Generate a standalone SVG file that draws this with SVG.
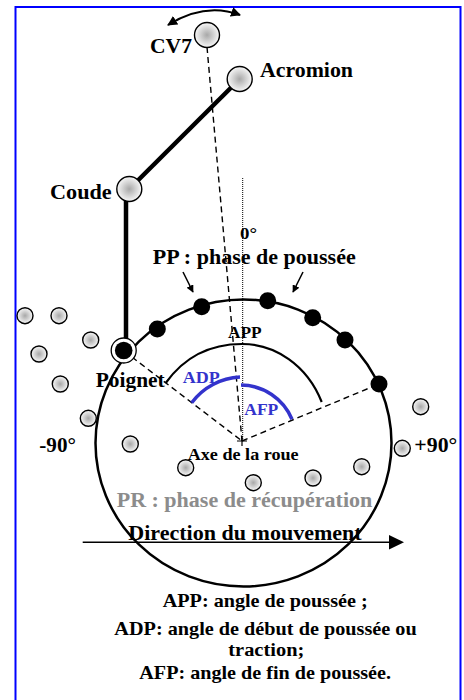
<svg xmlns="http://www.w3.org/2000/svg" width="464" height="700" viewBox="0 0 464 700">
<defs>
<radialGradient id="g" cx="50%" cy="50%" r="50%">
<stop offset="0" stop-color="#a8a8a8"/>
<stop offset="1" stop-color="#f8f8f8"/>
</radialGradient>
<marker id="ah" viewBox="0 0 10 10" refX="9" refY="5" markerWidth="5" markerHeight="5" orient="auto-start-reverse">
<path d="M0,0 L10,5 L0,10 z" fill="#000"/>
</marker>
<style>
text{font-family:"Liberation Serif","Times New Roman",serif;font-weight:bold;fill:#000}
.m{fill:url(#g);stroke:#000;stroke-width:1.4}
.j{fill:url(#g);stroke:#000;stroke-width:1.4}
.d{fill:#000}
.dash{fill:none;stroke:#000;stroke-width:1.4;stroke-dasharray:6,4}
.blue{fill:#3333cc}
.barc{fill:none;stroke:#3333cc;stroke-width:3.5}
</style>
</defs>
<rect x="15.5" y="7" width="445" height="720" fill="#fff" stroke="#0000ff" stroke-width="2"/>

<g id="connectors">
<line x1="239.7" y1="79" x2="129.3" y2="189" stroke="#000" stroke-width="4.5"/>
<line x1="126" y1="195" x2="126" y2="350" stroke="#000" stroke-width="4.5"/>
<line x1="207" y1="47" x2="242" y2="441" class="dash"/>
<line x1="242.7" y1="178" x2="242.7" y2="441" stroke="#000" stroke-width="1" stroke-dasharray="1,1"/>
<line x1="124" y1="351" x2="242" y2="441" class="dash"/>
<line x1="242" y1="441" x2="379" y2="384" class="dash"/>
<path d="M168,25 Q205,2 240,15" fill="none" stroke="#000" stroke-width="2" marker-start="url(#ah)" marker-end="url(#ah)"/>
<line x1="183" y1="272" x2="193" y2="292" stroke="#000" stroke-width="1.5" marker-end="url(#ah)"/>
<line x1="303" y1="272" x2="293" y2="292" stroke="#000" stroke-width="1.5" marker-end="url(#ah)"/>
<line x1="82.7" y1="542.3" x2="392" y2="542.3" stroke="#000" stroke-width="1.5"/>
<polygon points="389,535 404,542.3 389,549.6" fill="#000"/>
</g>

<g id="wheel">
<ellipse cx="243.5" cy="443" rx="148" ry="143.5" fill="none" stroke="#000" stroke-width="2.5"/>
<path d="M165.7,383 C185,356 212,344 242,344 C275,344 307,365 321.7,402" fill="none" stroke="#000" stroke-width="2.2"/>
<path d="M191.7,402.7 A64 64 0 0 1 240,377" class="barc"/>
<path d="M241,385 A56 56 0 0 1 292,419.3" class="barc"/>
<path d="M237,441 H247 M242,436 V446" stroke="#000" stroke-width="1.2"/>
</g>

<g id="pushDots">
<circle cx="157.3" cy="329" r="8.5" class="d"/>
<circle cx="201.7" cy="306.7" r="8.5" class="d"/>
<circle cx="267.7" cy="300.7" r="8.5" class="d"/>
<circle cx="312.7" cy="317.7" r="8.5" class="d"/>
<circle cx="345" cy="340" r="8.5" class="d"/>
<circle cx="379" cy="384" r="8.5" class="d"/>
</g>

<g id="recoveryDots">
<circle cx="25" cy="315.7" r="8" class="m"/>
<circle cx="59" cy="315.7" r="8" class="m"/>
<circle cx="90.7" cy="340" r="8" class="m"/>
<circle cx="39" cy="354" r="8" class="m"/>
<circle cx="60.3" cy="384" r="8" class="m"/>
<circle cx="88.3" cy="418.3" r="8" class="m"/>
<circle cx="130.3" cy="444" r="8" class="m"/>
<circle cx="185.7" cy="467.7" r="8" class="m"/>
<circle cx="253.3" cy="482.7" r="8" class="m"/>
<circle cx="313" cy="478" r="8" class="m"/>
<circle cx="361.7" cy="466.7" r="8" class="m"/>
<circle cx="402.3" cy="448.3" r="8" class="m"/>
<circle cx="420.7" cy="406.7" r="8" class="m"/>
</g>

<g id="cv7">
<circle cx="207" cy="35" r="12.5" class="j"/>
<text x="150" y="53" font-size="20" textLength="42" lengthAdjust="spacingAndGlyphs">CV7</text>
</g>
<g id="acromion">
<circle cx="239.7" cy="79" r="12.5" class="j"/>
<text x="260" y="76.7" font-size="20.5" textLength="93" lengthAdjust="spacingAndGlyphs">Acromion</text>
</g>
<g id="coude">
<circle cx="129.3" cy="189" r="12.5" class="j"/>
<text x="50" y="199" font-size="20.5" textLength="61.7" lengthAdjust="spacingAndGlyphs">Coude</text>
</g>
<g id="poignet">
<circle cx="123.7" cy="350.5" r="12.5" fill="#fff" stroke="#000" stroke-width="1.3"/>
<circle cx="123.7" cy="350.5" r="8.8" fill="#000"/>
<text x="95.7" y="386.7" font-size="20" textLength="69" lengthAdjust="spacingAndGlyphs">Poignet</text>
</g>

<g id="labels">
<text x="240" y="239" font-size="16" textLength="17" lengthAdjust="spacingAndGlyphs">0°</text>
<text x="152.7" y="264" font-size="20" textLength="203" lengthAdjust="spacingAndGlyphs">PP : phase de poussée</text>
<text x="228" y="338.3" font-size="17" textLength="33.7" lengthAdjust="spacingAndGlyphs">APP</text>
<text x="182.7" y="382.7" font-size="17" textLength="37" lengthAdjust="spacingAndGlyphs" class="blue">ADP</text>
<text x="244.3" y="415" font-size="17" textLength="34" lengthAdjust="spacingAndGlyphs" class="blue">AFP</text>
<text x="39.3" y="451.7" font-size="20" textLength="36.7" lengthAdjust="spacingAndGlyphs">-90°</text>
<text x="414.3" y="451.7" font-size="20" textLength="43" lengthAdjust="spacingAndGlyphs">+90°</text>
<text x="187.7" y="460" font-size="17" textLength="111" lengthAdjust="spacingAndGlyphs">Axe de la roue</text>
<text x="116.7" y="506.7" font-size="20.5" textLength="255.6" lengthAdjust="spacingAndGlyphs" style="fill:#8c8c8c">PR : phase de récupération</text>
<text x="128.3" y="540" font-size="20.5" textLength="233.4" lengthAdjust="spacingAndGlyphs">Direction du mouvement</text>
</g>

<g id="legend">
<text x="162.7" y="607.3" font-size="19" textLength="205" lengthAdjust="spacingAndGlyphs">APP: angle de poussée ;</text>
<text x="114.3" y="634.5" font-size="19" textLength="302.4" lengthAdjust="spacingAndGlyphs">ADP: angle de début de poussée ou</text>
<text x="228.3" y="655.5" font-size="18.5" textLength="76" lengthAdjust="spacingAndGlyphs">traction;</text>
<text x="139.3" y="678.8" font-size="19" textLength="251.7" lengthAdjust="spacingAndGlyphs">AFP: angle de fin de poussée.</text>
</g>
</svg>
